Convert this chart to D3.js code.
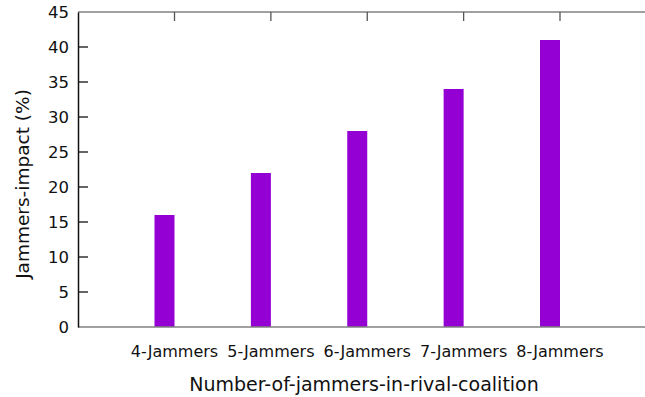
<!DOCTYPE html>
<html><head><meta charset="utf-8">
<script src="https://cdn.jsdelivr.net/npm/d3@7/dist/d3.min.js"></script>
<style>body{margin:0;background:#fff;} svg{display:block;} text{font-family:"DejaVu Sans",sans-serif;fill:#111;}</style>
</head><body>
<svg id="c" width="645" height="397"></svg>
<script>
const categories = ["4-Jammers","5-Jammers","6-Jammers","7-Jammers","8-Jammers"];
const values = [16, 22, 28, 34, 41];
const yTicks = [0,5,10,15,20,25,30,35,40,45];
const xTitle = "Number-of-jammers-in-rival-coalition";
const yTitle = "Jammers-impact (%)";

const svg = d3.select("#c");
const L = 78, T = 12, B = 327, R = 645;
const y = d3.scaleLinear().domain([0,45]).range([B, T]);
const x = d3.scalePoint().domain(categories).range([174.5, 560]);
const barW = 20;

// bars
svg.append("g").selectAll("rect").data(values).join("rect")
  .attr("x", (d,i) => x(categories[i]) - barW)
  .attr("y", d => y(d))
  .attr("width", barW)
  .attr("height", d => y(0) - y(d))
  .attr("fill", "#9400D3");

// top border + ticks
svg.append("line").attr("x1", L).attr("x2", R).attr("y1", T).attr("y2", T)
  .attr("stroke", "#808080").attr("stroke-width", 1.5);
svg.append("g").selectAll("line").data(categories).join("line")
  .attr("x1", d => x(d)).attr("x2", d => x(d)).attr("y1", T).attr("y2", T + 9)
  .attr("stroke", "#555").attr("stroke-width", 1.3);

// bottom axis
svg.append("line").attr("x1", L).attr("x2", R).attr("y1", B).attr("y2", B)
  .attr("stroke", "#808080").attr("stroke-width", 1.5);

// x labels
svg.append("g").selectAll("text").data(categories).join("text")
  .attr("x", d => x(d)).attr("y", 357)
  .attr("text-anchor", "middle").attr("font-size", 16)
  .text(d => d);

// left axis
const yAxis = d3.axisLeft(y).tickValues(yTicks).tickSize(0).tickPadding(9);
const ga = svg.append("g").attr("transform", `translate(${L},0)`).call(yAxis);
ga.select(".domain").attr("stroke", "#111").attr("stroke-width", 1.5);
ga.selectAll("text").attr("font-size", 16.5).attr("font-family", "DejaVu Sans").attr("fill", "#111");
svg.append("g").selectAll("line").data(yTicks.filter(v => v > 0 && v < 45)).join("line")
  .attr("x1", L).attr("x2", L + 10).attr("y1", d => y(d)).attr("y2", d => y(d))
  .attr("stroke", "#111").attr("stroke-width", 1.3);

// titles
svg.append("text").attr("x", 364).attr("y", 391).attr("text-anchor", "middle")
  .attr("font-size", 19).text(xTitle);
svg.append("text").attr("transform", "translate(29,184) rotate(-90)")
  .attr("text-anchor", "middle").attr("font-size", 18.5).text(yTitle);
</script>
</body></html>
